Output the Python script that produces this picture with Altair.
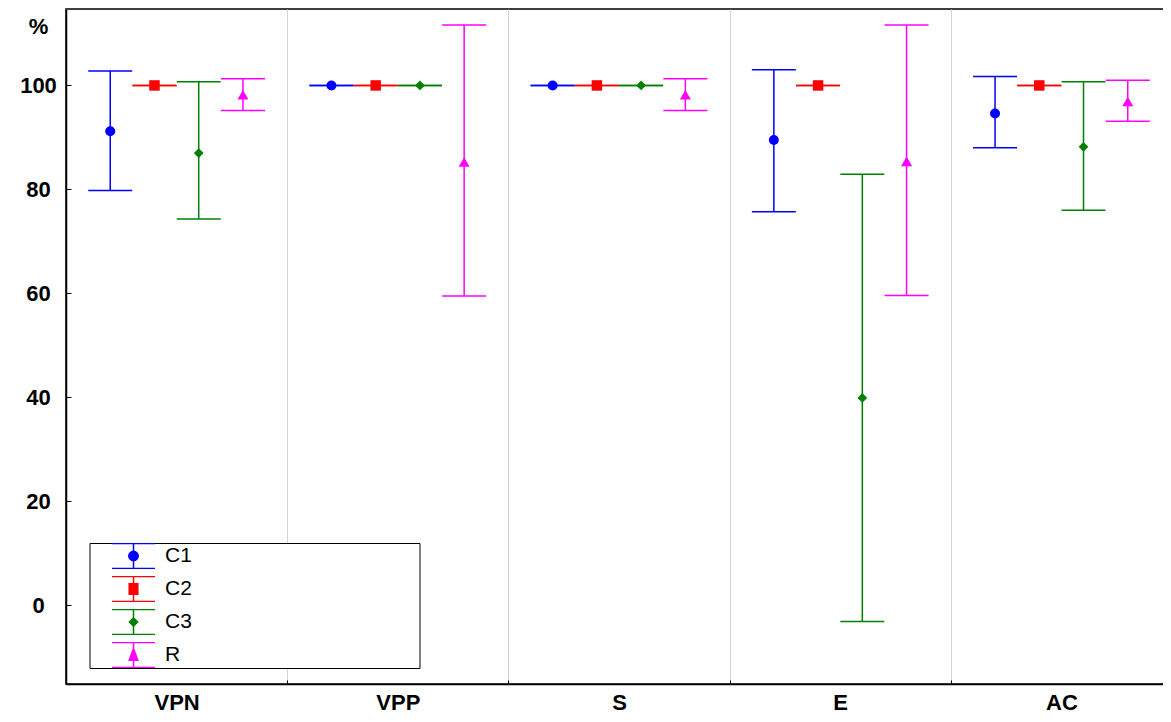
import altair as alt
import pandas as pd

categories = ["VPN", "VPP", "S", "E", "AC"]
series = ["C1", "C2", "C3", "R"]
colors = ["#0000FF", "#FF0000", "#008000", "#FF00FF"]
shapes = ["circle", "square", "diamond", "triangle-up"]
marker_sizes = [100, 110, 95, 121]

c1_mean = [91.2, 100.0, 100.0, 89.5, 94.6]
c1_low = [79.8, 100.0, 100.0, 75.7, 88.0]
c1_high = [102.8, 100.0, 100.0, 103.0, 101.7]

c2_mean = [100.0, 100.0, 100.0, 100.0, 100.0]
c2_low = [100.0, 100.0, 100.0, 100.0, 100.0]
c2_high = [100.0, 100.0, 100.0, 100.0, 100.0]

c3_mean = [87.0, 100.0, 100.0, 39.9, 88.2]
c3_low = [74.3, 100.0, 100.0, -3.1, 76.0]
c3_high = [100.7, 100.0, 100.0, 82.9, 100.7]

r_mean = [98.2, 85.3, 98.2, 85.4, 96.9]
r_low = [95.2, 59.5, 95.2, 59.6, 93.1]
r_high = [101.3, 111.6, 101.3, 111.6, 101.0]

y_ticks = [0, 20, 40, 60, 80, 100]

rows = []
for s, ms, ls, hs in zip(series,
                         [c1_mean, c2_mean, c3_mean, r_mean],
                         [c1_low, c2_low, c3_low, r_low],
                         [c1_high, c2_high, c3_high, r_high]):
    for c, m, lo, hi in zip(categories, ms, ls, hs):
        rows.append({"category": c, "series": s, "mean": m, "low": lo, "high": hi})
df = pd.DataFrame(rows)

FONT = "Liberation Sans, Arial, sans-serif"

# legend glyphs: caps + stem + marker, unit coordinates
caps = "M-1,-0.58L1,-0.58M-1,0.58L1,0.58M0,-0.58L0,0.58"
glyphs = {
    "C1": caps + "M0.22,0A0.22,0.22,0,1,1,-0.22,0A0.22,0.22,0,1,1,0.22,0Z",
    "C2": caps + "M-0.2,-0.24L0.2,-0.24L0.2,0.24L-0.2,0.24Z",
    "C3": caps + "M-0.19,0L0,-0.19L0.19,0L0,0.19Z",
    "R": caps + "M0,-0.3L0.2,0.24L-0.2,0.24Z",
}
shape_expr = (
    "datum.value === 'C1' ? '" + glyphs["C1"] + "' : "
    "datum.value === 'C2' ? '" + glyphs["C2"] + "' : "
    "datum.value === 'C3' ? '" + glyphs["C3"] + "' : '" + glyphs["R"] + "'"
)

legend = alt.Legend(
    title="MMMMMMMMMMMMMM",
    titleOrient="right",
    titleOpacity=0,
    titleFontSize=19.5,
    titleFont=FONT,
    titleLimit=600,
    titlePadding=0,
    orient="none",
    legendX=23.5,
    legendY=534,
    direction="vertical",
    fillColor="white",
    strokeColor="black",
    padding=0,
    clipHeight=26,
    rowPadding=7,
    symbolSize=1849,
    symbolOffset=21.5,
    symbolStrokeWidth=1.5,
    symbolOpacity=1,
    symbolType={"expr": shape_expr},
    symbolFillColor={"expr": "scale('color', datum.value)"},
    symbolStrokeColor={"expr": "scale('color', datum.value)"},
    labelOffset=9,
    labelFont=FONT,
    labelFontSize=21,
    labelColor="black",
    labelLimit=500,
)

x_scale = alt.Scale(domain=categories, paddingInner=0, paddingOuter=0)
x_main = alt.X(
    "category:N",
    sort=categories,
    scale=x_scale,
    axis=alt.Axis(
        title=None,
        tickBand="extent",
        grid=True,
        gridColor="#d4d4d4",
        gridWidth=1,
        ticks=False,
        tickSize=0,
        labelPadding=25,
        labelBaseline="alphabetic",
        labelAngle=0,
    ),
)
x_none = alt.X("category:N", sort=categories, scale=x_scale, axis=None)
x_ticks = alt.X(
    "category:N",
    sort=categories,
    scale=x_scale,
    axis=alt.Axis(
        orient="top",
        offset=-675,
        title=None,
        labels=False,
        domain=False,
        grid=False,
        tickBand="extent",
        ticks=True,
        tickSize=4,
        tickColor="black",
        tickWidth=1,
    ),
)
xo_enc = alt.XOffset(
    "series:N",
    sort=series,
    scale=alt.Scale(domain=series, paddingInner=0, paddingOuter=0.5),
)
y_scale = alt.Scale(domain=[-15.1, 114.7], nice=False, zero=False)
y_axis = alt.Axis(
    values=y_ticks,
    title="%",
    titleAngle=0,
    titleX=-28,
    titleY=17,
    titleAlign="center",
    titleBaseline="middle",
    titleFont=FONT,
    titleFontSize=22,
    titleFontWeight="bold",
    titleColor="black",
    grid=False,
    ticks=False,
    tickSize=0,
    labelAlign="center",
    labelBaseline="middle",
    labelPadding=28,
)
y_tick_axis = alt.Axis(
    orient="right",
    offset=-1106,
    values=y_ticks,
    title=None,
    labels=False,
    domain=False,
    grid=False,
    ticks=True,
    tickSize=5,
    tickColor="black",
    tickWidth=1,
)
color_enc = alt.Color("series:N", sort=series, scale=alt.Scale(domain=series, range=colors), legend=legend)

base = alt.Chart(df)

stems = base.mark_rule(strokeWidth=1.5).encode(
    x=x_main,
    xOffset=xo_enc,
    y=alt.Y("low:Q", scale=y_scale, axis=y_axis),
    y2="high:Q",
    color=color_enc,
)
cap_hi = base.mark_tick(orient="horizontal", size=44, thickness=1.5, opacity=1).encode(
    x=x_none, xOffset=xo_enc, y=alt.Y("high:Q", scale=y_scale, axis=None), color=color_enc
)
cap_lo = base.mark_tick(orient="horizontal", size=44, thickness=1.5, opacity=1).encode(
    x=x_none, xOffset=xo_enc, y=alt.Y("low:Q", scale=y_scale, axis=None), color=color_enc
)

layers = [stems, cap_hi, cap_lo]
for s, shp, sz in zip(series, shapes, marker_sizes):
    layers.append(
        base.transform_filter(alt.datum.series == s)
        .mark_point(shape=shp, size=sz, filled=True, opacity=1, strokeWidth=0)
        .encode(x=x_none, xOffset=xo_enc, y=alt.Y("mean:Q", scale=y_scale, axis=None), color=color_enc)
    )

# inward tick marks (axis decoration only, no visible marks)
inward = base.mark_rule(opacity=0).encode(
    x=x_ticks,
    y=alt.Y("mean:Q", scale=y_scale, axis=y_tick_axis),
)
layers.append(inward)

chart = (
    alt.layer(*layers)
    .resolve_axis(x="independent", y="independent")
    .properties(
        width=1106,
        height=675,
        autosize=alt.AutoSizeParams(type="none"),
        padding={"left": 58, "top": 1, "right": -9, "bottom": 30},
        background="white",
    )
    .configure_view(stroke="black", strokeWidth=1.5)
    .configure_axis(
        domainColor="black",
        domainWidth=1.5,
        labelFont=FONT,
        labelFontSize=22,
        labelFontWeight="bold",
        labelColor="black",
    )
)

chart.save("out.html", embed_options={"renderer": "svg", "actions": False})
